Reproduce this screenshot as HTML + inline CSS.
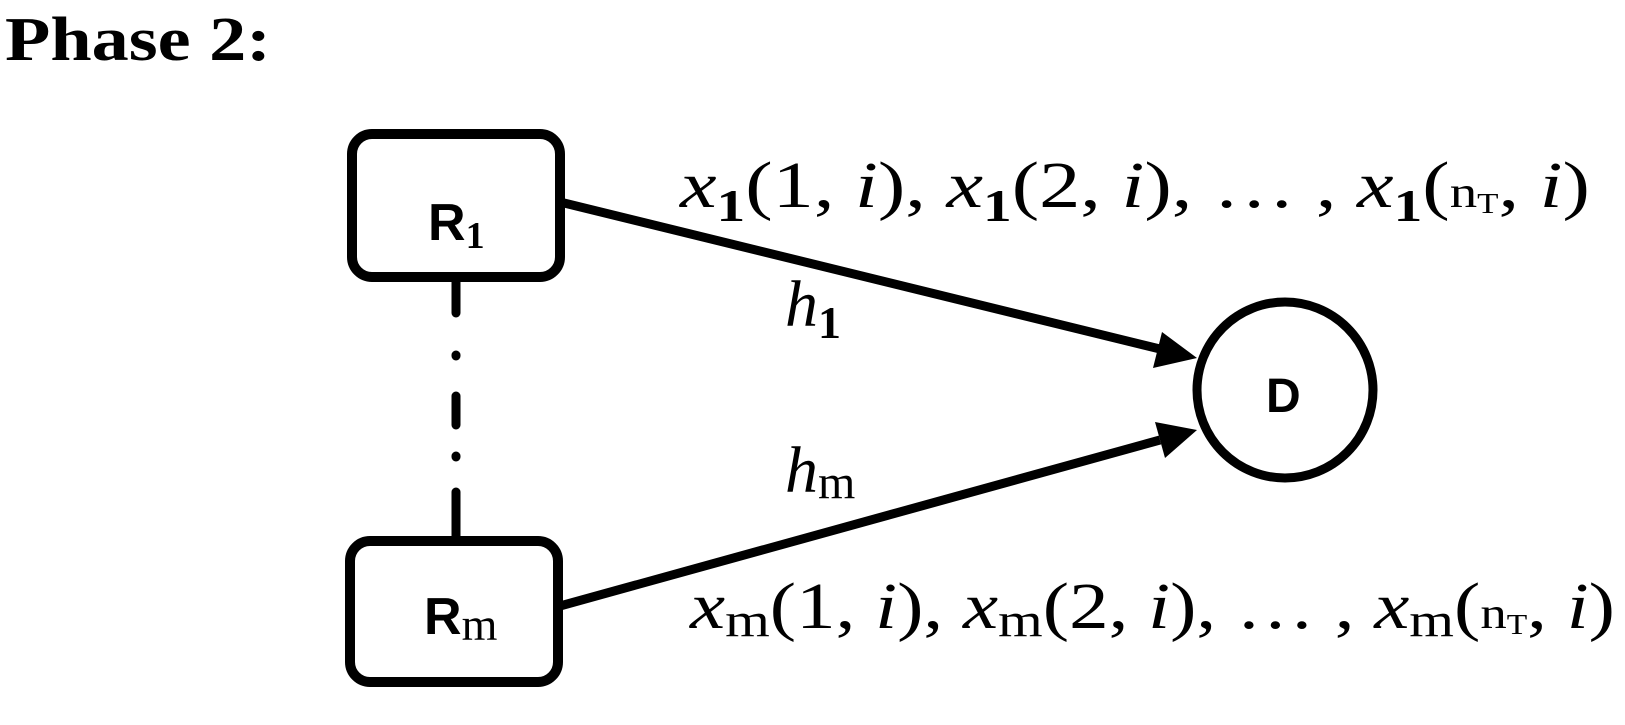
<!DOCTYPE html>
<html><head><meta charset="utf-8"><style>
html,body{margin:0;padding:0;background:#fff;}
svg{display:block;}
.m{font-family:"Liberation Serif",serif;font-style:italic;}
.r{font-family:"Liberation Serif",serif;font-style:normal;}
</style></head><body>
<svg width="1625" height="725" viewBox="0 0 1625 725" xmlns="http://www.w3.org/2000/svg">
<text x="5" y="60" font-family="Liberation Serif,serif" font-weight="bold" font-size="62" textLength="266" lengthAdjust="spacingAndGlyphs">Phase 2:</text>
<rect x="352" y="134" width="208" height="143" rx="20" fill="none" stroke="#000" stroke-width="10"/>
<rect x="350" y="541" width="208" height="141" rx="20" fill="none" stroke="#000" stroke-width="10"/>
<text x="428" y="240" font-family="Liberation Sans,sans-serif" font-weight="bold" font-size="52">R<tspan font-family="Liberation Serif,serif" font-size="38" dy="8">1</tspan></text>
<text x="424" y="634" font-family="Liberation Sans,sans-serif" font-weight="bold" font-size="52">R<tspan font-family="Liberation Serif,serif" font-weight="normal" font-size="46" dy="6">m</tspan></text>
<g stroke="#000" stroke-width="9" stroke-linecap="round">
<line x1="456" y1="282" x2="456" y2="313"/>
<line x1="456" y1="355" x2="456" y2="356"/>
<line x1="456" y1="396" x2="456" y2="425"/>
<line x1="456" y1="456" x2="456" y2="457"/>
<line x1="456" y1="492" x2="456" y2="536"/>
</g>
<circle cx="1285" cy="390" r="88" fill="none" stroke="#000" stroke-width="9"/>
<text x="1266" y="412" font-family="Liberation Sans,sans-serif" font-weight="bold" font-size="48">D</text>
<line x1="560" y1="202" x2="1160" y2="349" stroke="#000" stroke-width="9"/>
<polygon points="1197,358 1153,368 1162,332" fill="#000"/>
<line x1="560" y1="606" x2="1160" y2="440" stroke="#000" stroke-width="9"/>
<polygon points="1197,430 1165,458 1155,422" fill="#000"/>
<text x="680" y="207" font-size="66" class="m" textLength="910" lengthAdjust="spacingAndGlyphs">x<tspan class="r" font-size="46" dy="14" font-weight="bold">1</tspan><tspan class="r" dy="-14">(1, </tspan>i<tspan class="r">), </tspan>x<tspan class="r" font-size="46" dy="14" font-weight="bold">1</tspan><tspan class="r" dy="-14">(2, </tspan>i<tspan class="r">), … , </tspan>x<tspan class="r" font-size="46" dy="14" font-weight="bold">1</tspan><tspan class="r" dy="-14">(</tspan><tspan class="r" font-size="44">n</tspan><tspan class="r" font-size="28" dy="6">T</tspan><tspan class="r" dy="-6">, </tspan>i<tspan class="r">)</tspan></text>
<text x="785" y="326" font-size="66" class="m">h<tspan class="r" font-size="46" dy="12" font-weight="bold">1</tspan></text>
<text x="785" y="492" font-size="66" class="m">h<tspan class="r" font-size="48" dy="6">m</tspan></text>
<text x="690" y="628" font-size="66" class="m" textLength="925" lengthAdjust="spacingAndGlyphs">x<tspan class="r" font-size="48" dy="8">m</tspan><tspan class="r" dy="-8">(1, </tspan>i<tspan class="r">), </tspan>x<tspan class="r" font-size="48" dy="8">m</tspan><tspan class="r" dy="-8">(2, </tspan>i<tspan class="r">), … , </tspan>x<tspan class="r" font-size="48" dy="8">m</tspan><tspan class="r" dy="-8">(</tspan><tspan class="r" font-size="44">n</tspan><tspan class="r" font-size="28" dy="6">T</tspan><tspan class="r" dy="-6">, </tspan>i<tspan class="r">)</tspan></text>
</svg>
</body></html>
